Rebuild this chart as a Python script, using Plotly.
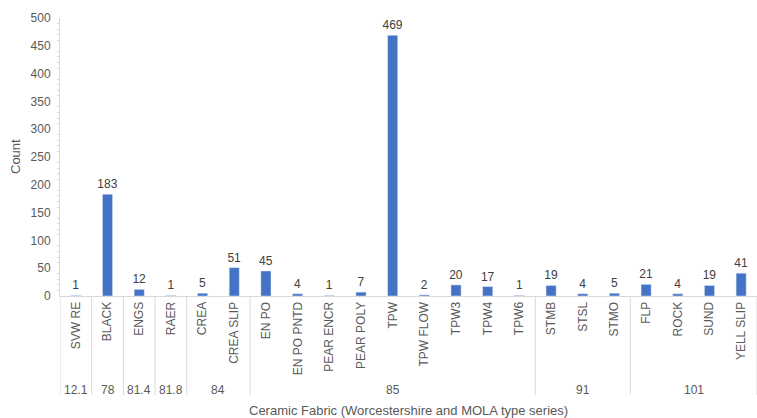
import plotly.graph_objects as go

categories = ["SVW RE", "BLACK", "ENGS", "RAER", "CREA", "CREA SLIP", "EN PO", "EN PO PNTD",
              "PEAR ENCR", "PEAR POLY", "TPW", "TPW FLOW", "TPW3", "TPW4", "TPW6",
              "STMB", "STSL", "STMO", "FLP", "ROCK", "SUND", "YELL SLIP"]
groups = ["12.1", "78", "81.4", "81.8", "84", "84", "85", "85", "85", "85", "85", "85", "85", "85", "85",
          "91", "91", "91", "101", "101", "101", "101"]
counts = [1, 183, 12, 1, 5, 51, 45, 4, 1, 7, 469, 2, 20, 17, 1, 19, 4, 5, 21, 4, 19, 41]

FONT = "Liberation Sans, Arial, sans-serif"
GRAY = "#595959"
LINE = "#d9d9d9"

xs = list(range(len(categories)))

fig = go.Figure()
fig.add_trace(go.Bar(
    x=xs, y=counts, width=0.32, marker_color="#4472C4",
    text=[str(c) for c in counts], textposition="outside", cliponaxis=False,
    constraintext="none",
    textfont=dict(family=FONT, size=12, color="#404040"),
))

# group spans
spans = []
start = 0
for i in range(1, len(groups) + 1):
    if i == len(groups) or groups[i] != groups[start]:
        spans.append((groups[start], start, i - 1))
        start = i

plot_h = 418 - 18 - 122
sep_depth = -(395 - 296) / plot_h
shapes = []
annotations = []
for name, a, b in spans:
    shapes.append(dict(type="line", xref="x", yref="paper", x0=a - 0.5, x1=a - 0.5,
                       y0=0, y1=sep_depth, line=dict(color=LINE, width=1)))
    annotations.append(dict(x=(a + b) / 2, y=0, xref="x", yref="paper", text=name,
                            showarrow=False, yshift=-94, yanchor="middle",
                            font=dict(family=FONT, size=12, color=GRAY)))
last = len(categories) - 0.5
shapes.append(dict(type="line", xref="x", yref="paper", x0=last, x1=last,
                   y0=0, y1=sep_depth, line=dict(color=LINE, width=1)))

annotations.append(dict(x=0.5, y=0, xref="paper", yref="paper",
                        text="Ceramic Fabric (Worcestershire and MOLA type series)",
                        showarrow=False, yshift=-114, yanchor="middle",
                        font=dict(family=FONT, size=13, color=GRAY)))
annotations.append(dict(x=0, y=0.5, xref="paper", yref="paper", text="Count",
                        showarrow=False, xshift=-45, textangle=-90, xanchor="center",
                        font=dict(family=FONT, size=13, color=GRAY)))

fig.update_layout(
    width=757, height=418,
    margin=dict(l=60, r=0, t=18, b=122),
    plot_bgcolor="white", paper_bgcolor="white",
    showlegend=False,
    shapes=shapes, annotations=annotations,
    xaxis=dict(
        tickmode="array", tickvals=xs, ticktext=categories, tickangle=-90,
        range=[-0.5, len(categories) - 0.5],
        showline=True, linecolor=LINE, linewidth=1, showgrid=False, zeroline=False,
        ticks="", ticklen=0,
        tickfont=dict(family=FONT, size=12, color=GRAY),
    ),
    yaxis=dict(
        range=[0, 500], dtick=50, showgrid=False, zeroline=False,
        showline=True, linecolor=LINE, linewidth=1,
        ticks="", ticklabelstandoff=6, tickfont=dict(family=FONT, size=12, color=GRAY),
        minor=dict(dtick=10, ticks="outside", ticklen=2, tickcolor=LINE),
    ),
)

fig.write_html("out.html")
